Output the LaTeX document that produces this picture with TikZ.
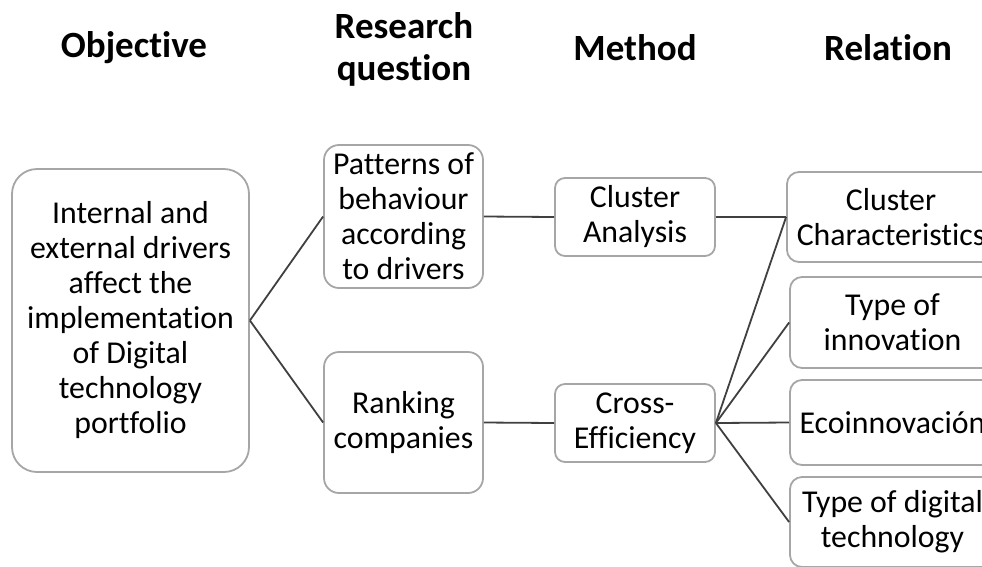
\documentclass[tikz,border=0pt]{standalone}
\usepackage{fontspec}
\setmainfont{Carlito}[Ligatures=CommonOff]
\definecolor{boxgray}{HTML}{A6A6A6}
\definecolor{linkgray}{HTML}{404040}
\begin{document}
\begin{tikzpicture}[x=1pt,y=-1pt,
  box/.style={draw=boxgray, line width=1.8pt, fill=white, align=center,
    inner sep=0pt, text=black, font=\fontsize{31.8}{35}\selectfont},
  hdr/.style={align=center, text=black, font=\fontsize{37}{42}\selectfont\bfseries},
  link/.style={draw=linkgray, line width=1.8pt}]
\clip (0,0) rectangle (982,566);

% column headings
\node[hdr] (hobj) at (134,48) {Objective};
\node[hdr] (hrq)  at (404,49) {Research\\question};
\node[hdr] (hmet) at (635,48) {Method};
\node[hdr] (hrel) at (888,48) {Relation};

% objective
\node[box, rounded corners=25pt, minimum width=237pt, minimum height=303pt] (obj) at (130.5,320.5)
  {Internal and\\external drivers\\affect the\\implementation\\of Digital\\technology\\portfolio};

% research questions
\node[box, rounded corners=15pt, minimum width=159pt, minimum height=143pt] (rq1) at (403.5,216.5)
  {Patterns of\\behaviour\\according\\to drivers};
\node[box, rounded corners=15pt, minimum width=159pt, minimum height=141pt] (rq2) at (403.5,422.5)
  {Ranking\\companies};

% methods
\node[box, rounded corners=10pt, minimum width=160pt, minimum height=78pt] (m1) at (635,217)
  {Cluster\\Analysis};
\node[box, rounded corners=10pt, minimum width=160pt, minimum height=78pt] (m2) at (635,423)
  {Cross-\\Efficiency};

% relations
\node[box, rounded corners=12pt, minimum width=208pt, minimum height=90pt] (r1) at (891,217)
  {Cluster\\Characteristics};
\node[box, rounded corners=12pt, minimum width=205pt, minimum height=91pt] (r2) at (892.5,322.5)
  {Type of\\innovation};
\node[box, rounded corners=12pt, minimum width=205pt, minimum height=85pt] (r3) at (892.5,422.5)
  {Ecoinnovación};
\node[box, rounded corners=12pt, minimum width=205pt, minimum height=90pt] (r4) at (892.5,522)
  {Type of digital\\technology};

% connectors
\draw[link] (obj.east) -- (rq1.west);
\draw[link] (obj.east) -- (rq2.west);
\draw[link] (rq1.east) -- (m1.west);
\draw[link] (rq2.east) -- (m2.west);
\draw[link] (m1.east) -- (r1.west);
\draw[link] (m2.east) -- (r1.west);
\draw[link] (m2.east) -- (r2.west);
\draw[link] (m2.east) -- (r3.west);
\draw[link] (m2.east) -- (r4.west);
\end{tikzpicture}
\end{document}
